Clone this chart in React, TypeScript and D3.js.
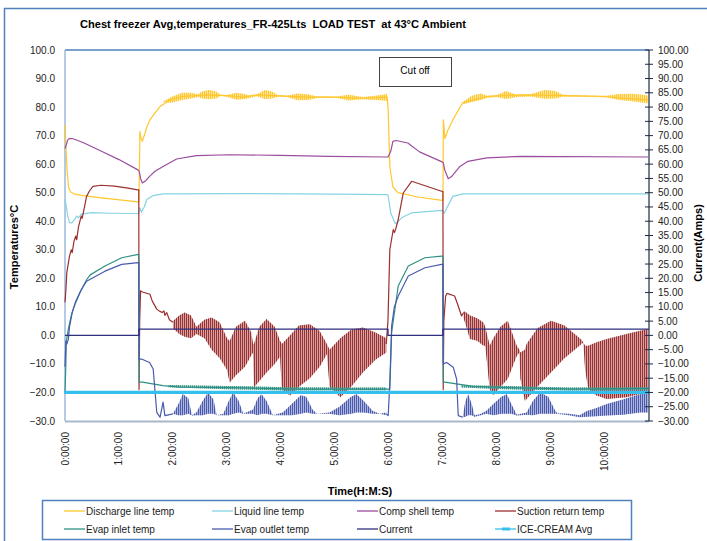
import React from 'react';
import * as d3 from 'd3';

const width = 707;
const height = 541;
const plot = { left: 65, right: 649, top: 50, bottom: 421 };
const FONT = 'Liberation Sans, Arial, sans-serif';

type P = [number, number];          // [minutes, value]
type B = [number, number, number];  // [minutes, low, high] of a dense oscillation

const TITLE = 'Chest freezer Avg,temperatures_FR-425Lts  LOAD TEST  at 43°C Ambient';
const TIME_LABELS = ['0:00:00', '1:00:00', '2:00:00', '3:00:00', '4:00:00', '5:00:00',
  '6:00:00', '7:00:00', '8:00:00', '9:00:00', '10:00:00'];
const SERIES_NAMES = ['Discharge line temp', 'Liquid line temp', 'Comp shell temp', 'Suction return temp',
  'Evap inlet temp', 'Evap outlet temp', 'Current', 'ICE-CREAM Avg'];
const SERIES_COLORS = ['#FFC72C', '#86D3E3', '#9B4D9F', '#9C2F2F', '#2E9184', '#4A5AAE', '#2F2F80', '#35BFEC'];

const DISCHARGE: P[] = [[0, 73.8], [1, 66], [2.5, 57], [4, 52], [6, 50.3], [10, 49.6], [20, 49], [40, 48.2], [61, 47.5], [81, 46.8],
  [82.2, 47], [83.3, 71.5], [84.5, 69], [86, 68], [91, 73], [94.4, 75.5], [100, 78], [105.6, 80.2], [116.7, 82.5], [131, 83.7],
  [158, 84.3], [183, 83.9], [198, 83.5], [213, 84.3], [239, 83.9], [269, 83.5], [294, 83.5], [331, 83.1], [358, 83.5],
  [359, 80], [361, 59], [364.4, 52], [370, 50], [392, 48.5], [419, 47.3],
  [420, 47.3], [420.5, 75.5], [422.2, 69], [425.6, 72], [431, 75.5], [442, 81.5], [469, 83.7], [487, 84], [505.6, 84.3],
  [561, 84], [597, 83.7], [648, 82.5]];
const DISCHARGE_OSC: B[] = [[108, 81.8, 81.8], [118, 81.5, 83.5], [130, 82.5, 85], [140, 83, 85], [148, 83.5, 84.5],
  [152, 83, 85.5], [160, 82.7, 86], [168, 83, 85.5], [173, 84, 84.3], [180, 83.6, 84.2], [190, 82.6, 85], [200, 82.8, 84.6],
  [206, 83.3, 83.8], [213, 83.8, 84.4], [222, 82.8, 86], [230, 83, 85.5], [236, 83.6, 84.2], [247, 83.5, 84],
  [258, 82.4, 84.8], [270, 82.5, 84.5], [280, 83.2, 83.7], [302, 83.3, 83.7], [315, 82.3, 84.3], [331, 82.7, 83.5],
  [345, 82.5, 84], [358, 82.2, 84.6], [NaN, 0, 0],
  [442, 81, 81.8], [452, 81.8, 84], [462, 82.5, 84.8], [469, 83.3, 84], [480, 83.5, 84.2], [490, 82.8, 85.6],
  [502, 83.5, 84.2], [517, 83.7, 84.5], [533, 82.9, 86], [545, 83, 85.6], [553, 83.6, 84.3], [575, 83.6, 84.1],
  [602, 83.4, 84], [615, 82.5, 84.6], [630, 82, 84.7], [645, 81.4, 84.2], [648, 81.3, 84]];

const LIQUID: P[] = [[0, 47.6], [1, 46], [3, 42], [5, 39.5], [7.4, 39.4], [10, 40.3], [13, 41.8], [15, 41.2], [18, 42.5],
  [30, 43], [50, 42.8], [81, 42.7], [82.2, 43], [83, 44.7], [85, 43.2], [88, 45], [91, 47.6], [98, 49], [109, 49.6],
  [200, 49.7], [300, 49.5], [358, 49.3], [359, 49.2], [362, 42.9], [367, 39.2], [369, 39.5], [374, 41.2], [385, 42.9],
  [419, 43.8], [420, 43.5], [421.5, 42.8], [424, 44.5], [431, 48.7], [442, 49.6], [648, 49.6]];

const COMP_SHELL: P[] = [[0, 65.5], [1.5, 66.8], [3, 68.5], [5, 69], [9, 68.9], [20, 67.6], [40, 64.6], [60, 61.6], [81, 58],
  [82.5, 57.5], [84, 55], [86, 53.4], [90, 54.3], [94, 55.7], [100, 57.5], [109, 59.2], [124, 61.8], [146, 63], [183, 63.3],
  [239, 63.1], [294, 62.7], [358, 62.5], [359, 62.5], [362, 64.5], [364.4, 68], [368, 68.3], [381, 67.4], [394, 64.3],
  [419, 60.8], [420.3, 60.5], [422, 58], [425.9, 54.9], [430, 55.8], [438.9, 59.2], [447.8, 61], [468.6, 62.2],
  [505.6, 62.7], [648, 62.5]];

const SUCTION: P[] = [[0, 11.6], [1, 16], [2, 22], [5, 27.8], [7, 30], [8, 29], [10, 33], [12, 34.8], [13, 33.5], [15, 38],
  [18, 41.8], [19, 41], [21, 44], [24, 48.7], [27, 50.5], [31, 52.2], [40, 52.6], [55, 52.3], [70, 51.6], [81, 51],
  [82, 51], [82.3, -19], [83, 5], [84, 15.6], [86, 15.2], [94.4, 14.4], [97, 12], [102, 9.2], [105, 8.5], [108, 8],
  [110, 8.6], [111, 7], [113, 8], [116, 5.5], [120, 4.6], [NaN, NaN],
  [357, -3], [358.9, 5], [361, 30.1], [364.8, 37.1], [366, 36], [367.4, 37.1], [370.3, 40.6], [375.9, 49.9], [385.2, 54],
  [418.5, 50.5], [420, 50.5], [420.3, -19], [421, 5], [423, 13.8], [424.5, 14.7], [433, 13.8], [437, 10.3], [440.7, 6.8],
  [443, 8]];
const SUCTION_OSC: B[] = [[120, 2.5, 5], [127, 0.5, 7], [133, -0.5, 8], [140, -1, 7], [146, 0.5, 3], [155, -1, 5.5],
  [163, -5, 6.3], [172, -8, 4.5], [180, -12, -1], [183, -16.5, -2], [190, -14, 3], [200, -11, 5.1], [207, -7, 1],
  [209, -6, -3], [210, -18.2, -3], [216, -16, 3], [224, -13, 5.7], [233, -10, 3], [239, -7.5, -2], [241, -19, -3],
  [250, -21.1, 0], [260, -18, 3.5], [272, -15, 3.9], [283, -11, 1.5], [291, -6.5, -3], [294, -18, -5], [306, -21.7, -1],
  [318, -18, 2], [331, -13, 2.8], [345, -8.5, 1], [357, -6, -1], [NaN, 0, 0],
  [443, 6, 8.5], [446, 3, 8], [450, -1.3, 7], [458, -1.9, 6], [465, -3.6, 4.5], [467, -3.6, 3], [472, -18.8, -3.6],
  [476, -21.1, -1], [484, -18, 3], [492, -15.3, 5.1], [502, -7.2, -3.6], [505, -6, -5], [506, -15, -6], [511, -22.9, -5],
  [513, -22.3, -3], [525, -18, 2.5], [540, -13, 5.1], [555, -8, 3.5], [574, -3, -1.5], [576, -2.5, -2.5], [578, -12, -3.6],
  [581.5, -18.8, -3.6], [590, -21, -2.5], [602, -22.3, -1.3], [624, -21.7, 0.5], [639, -20.5, 1.6], [648, -19.4, 2.2]];

const EVAP_INLET: P[] = [[0, -20], [0.8, -12], [1.5, -2], [3.7, 2.2], [7, 7], [10, 10], [16.7, 15], [24, 19.5], [28, 21.2],
  [44.4, 24.3], [63, 27.2], [81.4, 28.4], [82, 28.4], [82.5, -16.4], [86, -16.4], [94, -16.8], [109, -17.6], [128, -18.1],
  [183, -18.3], [257, -18.8], [358, -18.8], [361, -18.8], [363, 1], [370.3, 17.3], [381.5, 24.3], [400, 27.2],
  [418.5, 27.8], [420, 27.8], [420.5, -16.4], [422, -16.4], [435, -17], [454, -17.9], [491, -18.3], [565, -18.8],
  [648, -18.6]];
const EVAP_INLET_OSC: B[] = [[115, -18.2, -17.4], [180, -18.9, -17.7], [250, -19.3, -18.2], [300, -19.2, -18.3],
  [357, -19.2, -18.3], [NaN, 0, 0], [440, -18.3, -17.5], [500, -19, -17.8], [560, -19.3, -18.3], [648, -19.2, -18.2]];

const EVAP_OUTLET: P[] = [[0, -11], [1, -2], [2, -3], [3.7, -1.4], [5, 3], [8, 8], [12, 12], [18, 16], [24, 19],
  [44.4, 22.5], [63, 24.9], [81.4, 25.5], [82, 25.5], [82.3, -8.3], [85, -8.3], [94, -9.5], [98, -11.8], [102, -27],
  [105.6, -28.7], [109, -23.4], [111, -28.1], [120, -27.5], [NaN, NaN],
  [357, -27.5], [359.2, -28.1], [361, -16.4], [363, 3.3], [366, 10], [370.3, 13.8], [381.5, 20.8], [400, 23.7],
  [418.5, 24.9], [420, 24.9], [420.3, -10], [424.1, -9.5], [431.5, -11.2], [435.2, -15.3], [437, -28.1], [442, -28.7]];
const EVAP_OUTLET_OSC: B[] = [[120, -27.5, -27.5], [126, -28, -24], [131, -28, -20.5], [137, -27.5, -22], [141, -28.1, -28],
  [146, -28, -27], [153, -28, -23], [159, -27.5, -20], [165, -27.5, -22.5], [168.5, -28, -28], [176, -28, -27.5],
  [182, -28, -23], [187, -27.5, -20], [193, -27, -23], [198, -27.5, -27.5], [209, -27.5, -26], [214, -28, -22],
  [218.5, -27.5, -20.6], [224, -27.5, -23], [231, -28, -28], [242, -28, -27], [252, -28, -24], [262, -27.5, -21],
  [268, -27, -21.5], [275, -27.5, -26], [280, -27.5, -27.5], [294, -27.5, -27], [305, -28, -25], [318, -27.5, -21.5],
  [324, -27, -20.6], [332, -27, -23], [342, -27.5, -26.5], [350, -27.5, -27.5], [357, -28, -27], [NaN, 0, 0],
  [442, -28.7, -28.5], [445, -28.5, -23], [448, -28, -20.6], [452, -28, -24], [455, -28.5, -28], [461, -28.1, -27.6],
  [468, -27.5, -26.5], [476, -28, -24], [485, -27.5, -21.5], [491, -27.5, -20.6], [496, -27.5, -24], [502, -28.1, -27.8],
  [513, -27.8, -27], [520, -28, -23], [528, -27.5, -20], [537, -27.5, -21.5], [544, -27.5, -26], [547, -27.5, -27.3],
  [560, -28, -27.5], [572, -28.7, -28], [580, -28.5, -26.5], [590, -28.3, -25.5], [602, -28.1, -24], [620, -27.8, -22.5],
  [639, -27, -20.6], [648, -27, -20]];

const CURRENT: P[] = [[0, 0], [82.2, 0], [82.2, 2.2], [358.9, 2.2], [358.9, 0], [420, 0], [420, 2.2], [649, 2.2]];
const ICE_CREAM: P[] = [[-1, -20], [82, -20], [200, -20], [359, -20], [420, -20], [649, -20]];

const SERIES: { line: P[]; osc?: B[]; width: number }[] = [
  { line: DISCHARGE, osc: DISCHARGE_OSC, width: 1.2 },
  { line: LIQUID, width: 1.2 },
  { line: COMP_SHELL, width: 1.2 },
  { line: SUCTION, osc: SUCTION_OSC, width: 1.2 },
  { line: EVAP_INLET, osc: EVAP_INLET_OSC, width: 1.2 },
  { line: EVAP_OUTLET, osc: EVAP_OUTLET_OSC, width: 1.2 },
  { line: CURRENT, width: 1.4 },
  { line: ICE_CREAM, width: 3.2 },
];

export default function App() {
  const x = d3.scaleLinear().domain([0, 649]).range([plot.left, plot.right]);
  const yL = d3.scaleLinear().domain([-30, 100]).range([plot.bottom, plot.top]);
  const yR = d3.scaleLinear().domain([-30, 100]).range([plot.bottom, plot.top]);

  const line = d3.line<P>()
    .defined(d => !Number.isNaN(d[0]) && !Number.isNaN(d[1]))
    .x(d => x(d[0]))
    .y(d => yL(d[1]));
  const band = d3.area<B>()
    .defined(d => !Number.isNaN(d[0]))
    .x(d => x(d[0]))
    .y0(d => yL(d[1]))
    .y1(d => yL(d[2]));

  const fmtL = d3.format('.1f');
  const fmtR = d3.format('.2f');
  const legendX = [86, 234, 379, 517];
  const legendY = [511, 529];

  return (
    <svg width={width} height={height} style={{ position: 'absolute', left: 0, top: 0, background: '#fff' }}
      fontFamily={FONT}>
      <defs>
        {SERIES_COLORS.map((c, i) => (
          <pattern key={i} id={`osc${i}`} width={2} height={8} patternUnits="userSpaceOnUse">
            <rect x={0} y={0} width={1.2} height={8} fill={c} />
          </pattern>
        ))}
      </defs>
      <rect x={4.5} y={8.5} width={width} height={height} fill="none" stroke="#4F81BD" strokeWidth={1.5} />

      <text x={80} y={28} fontSize={11} fontWeight="bold" textLength={386} lengthAdjust="spacingAndGlyphs"
        style={{ whiteSpace: 'pre' }}>{TITLE}</text>

      {/* plot frame */}
      <line x1={plot.left} x2={plot.right} y1={plot.top} y2={plot.top} stroke="#4F81BD" strokeWidth={1.5} />
      <line x1={plot.left} x2={plot.left} y1={plot.top} y2={plot.bottom} stroke="#9DB8DC" strokeWidth={1.5} />
      <line x1={plot.left} x2={plot.right} y1={plot.bottom + 0.5} y2={plot.bottom + 0.5} stroke="#A9B7C9" strokeWidth={2} />

      {/* series */}
      {SERIES.map((s, i) => (
        <g key={i}>
          <path d={line(s.line) || ''} fill="none" stroke={SERIES_COLORS[i]} strokeWidth={s.width} strokeLinejoin="round" />
          {s.osc && <path d={band(s.osc) || ''} fill={SERIES_COLORS[i]} fillOpacity={0.3} stroke="none" />}
          {s.osc && <path d={band(s.osc) || ''} fill={`url(#osc${i})`} stroke="none" />}
        </g>
      ))}

      {/* right axis */}
      <line x1={plot.right} x2={plot.right} y1={plot.top} y2={plot.bottom} stroke="#1F2A44" strokeWidth={1.2} />
      {yR.ticks(26).map(t => (
        <g key={t} transform={`translate(${plot.right},${yR(t)})`}>
          <line x1={-4} x2={4} stroke="#1F2A44" />
          <text x={9} dy="0.35em" fontSize={10} fill="#222">{fmtR(t)}</text>
        </g>
      ))}

      {/* left axis labels */}
      {yL.ticks(13).map(t => (
        <text key={t} x={55} y={yL(t)} dy="0.35em" textAnchor="end" fontSize={10} fill="#222">{fmtL(t)}</text>
      ))}

      {/* x labels */}
      {TIME_LABELS.map((lab, i) => (
        <text key={lab} transform={`translate(${x(i * 60)},432) rotate(-90)`} dy="0.35em" textAnchor="end"
          fontSize={10} fill="#222">{lab}</text>
      ))}

      <text transform="translate(14,247) rotate(-90)" textAnchor="middle" dy="0.35em" fontSize={11}
        fontWeight="bold">Temperatures°C</text>
      <text transform="translate(698,243) rotate(-90)" textAnchor="middle" dy="0.35em" fontSize={11}
        fontWeight="bold">Current(Amps)</text>
      <text x={360} y={491} textAnchor="middle" dy="0.35em" fontSize={11} fontWeight="bold">Time(H:M:S)</text>

      {/* cut off note */}
      <rect x={379.5} y={57.5} width={72} height={29} fill="#fff" stroke="#444" />
      <text x={415} y={70} textAnchor="middle" dy="0.35em" fontSize={10}>Cut off</text>

      {/* legend */}
      <rect x={42.5} y={500.5} width={589} height={39} fill="#fff" stroke="#4F81BD" strokeWidth={1.5} />
      {SERIES_NAMES.map((name, i) => {
        const tx = legendX[i % 4];
        const ty = legendY[Math.floor(i / 4)];
        return (
          <g key={name}>
            <line x1={tx - 22} x2={tx - 1} y1={ty} y2={ty} stroke={SERIES_COLORS[i]} strokeWidth={1.3} />
            {i === 7 && <rect x={tx - 15} y={ty - 1.5} width={8} height={3} fill={SERIES_COLORS[i]} />}
            <text x={tx} y={ty} dy="0.35em" fontSize={10} fill="#222">{name}</text>
          </g>
        );
      })}
    </svg>
  );
}
